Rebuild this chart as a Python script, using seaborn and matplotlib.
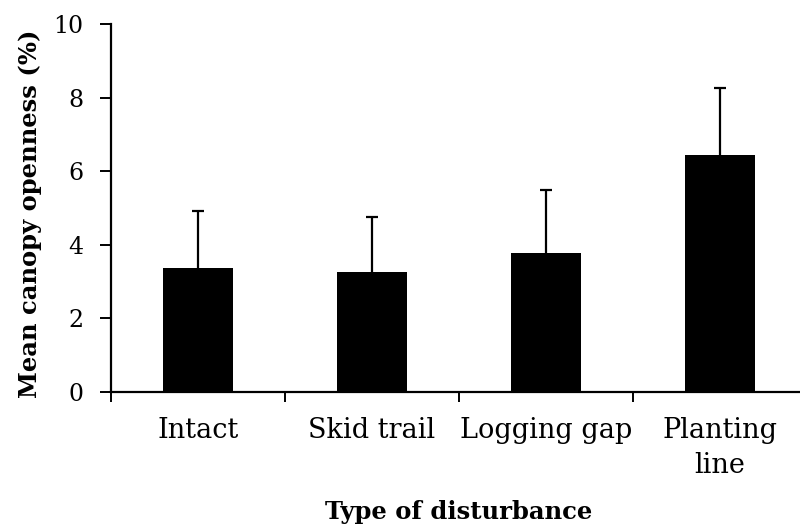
import matplotlib
matplotlib.use("Agg")
import matplotlib.pyplot as plt
import seaborn as sns
import pandas as pd
import numpy as np

categories = ["Intact", "Skid trail", "Logging gap", "Planting\nline"]
means = [3.36, 3.26, 3.76, 6.44]
upper_err = [1.56, 1.49, 1.72, 1.81]
yticks = [0, 2, 4, 6, 8, 10]

sns.set_theme(style="ticks")
plt.rcParams['font.family'] = ['DejaVu Serif']
plt.rcParams['text.color'] = 'black'
plt.rcParams['axes.labelcolor'] = 'black'
plt.rcParams['xtick.color'] = 'black'
plt.rcParams['ytick.color'] = 'black'

fig = plt.figure(figsize=(8, 5.24), dpi=100)
ax = fig.add_axes([111/800, 132.3/524, 696/800, 367.7/524])

df = pd.DataFrame({"cat": categories, "mean": means})
sns.barplot(data=df, x="cat", y="mean", color="black", width=0.4,
            saturation=1, ax=ax, edgecolor="black", linewidth=0)
x = np.arange(len(categories))
eb = ax.errorbar(x, means, yerr=[np.zeros(len(means)), upper_err], fmt="none",
                 ecolor="black", elinewidth=1.6, capsize=4.5, capthick=1.6)
caplines = eb.lines[1]
if len(caplines) > 0:
    caplines[0].set_visible(False)

ax.set_xlim(-0.5, 3.5)
ax.set_ylim(0, 10)
ax.set_yticks(yticks)
ax.set_yticklabels([str(v) for v in yticks], fontsize=17)
ax.tick_params(axis="y", direction="out", length=8, width=1.4, pad=12)

ax.set_xticks(np.arange(len(categories)) - 0.5)
ax.set_xticklabels([""] * len(categories))
ax.tick_params(axis="x", which="major", direction="out", length=7, width=1.4)
ax.set_xticks(x, minor=True)
ax.set_xticklabels(categories, minor=True, fontsize=19.5, linespacing=1.4)
ax.tick_params(axis="x", which="minor", length=0, pad=18)

for s in ["top", "right"]:
    ax.spines[s].set_visible(False)
for s in ["left", "bottom"]:
    ax.spines[s].set_linewidth(1.6)
    ax.spines[s].set_color("black")

ax.set_xlabel("Type of disturbance", fontsize=17.5, fontweight="bold", labelpad=15)
ax.set_ylabel("Mean canopy openness (%)", fontsize=17.5, fontweight="bold", labelpad=8)
ax.yaxis.label.set_y(0.485)

fig.savefig("out.png", dpi=100)
